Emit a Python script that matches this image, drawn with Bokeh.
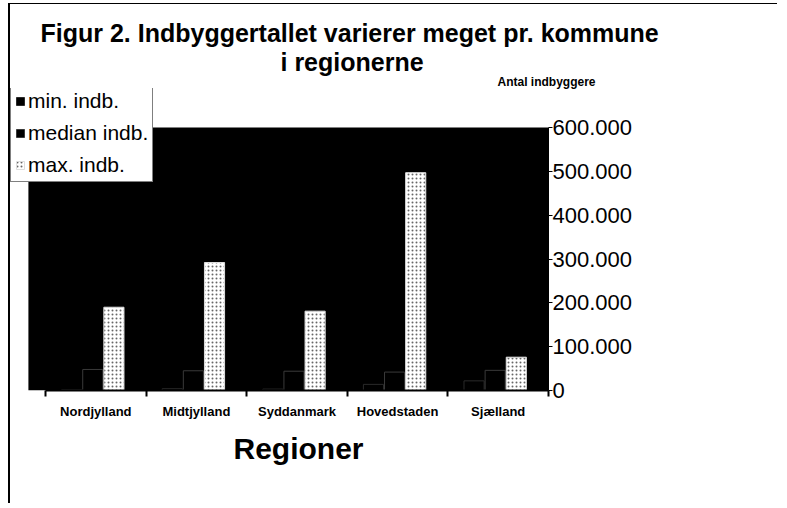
from bokeh.plotting import figure
from bokeh.models import (Range1d, FixedTicker, Legend, LegendItem, Title,
                          ColumnDataSource, BoxAnnotation)
from bokeh.transform import dodge
from bokeh.embed import file_html
from bokeh.resources import INLINE

# ---- data ----
regions = ["Nordjylland", "Midtjylland", "Syddanmark", "Hovedstaden", "Sjælland"]
min_indb = [2000, 4000, 3200, 14000, 22000]
median_indb = [48000, 45000, 44000, 42000, 46000]
max_indb = [190000, 292000, 181000, 497000, 76000]
y_ticks = [0, 100000, 200000, 300000, 400000, 500000, 600000]
y_tick_labels = ["0", "100.000", "200.000", "300.000", "400.000", "500.000", "600.000"]

centers = [i + 0.5 for i in range(len(regions))]
bounds = [float(i) for i in range(len(regions) + 1)]
y_max = y_ticks[-1]

FONT = "Liberation Sans"

p = figure(width=769, height=500, output_backend="svg", toolbar_location=None,
           x_range=Range1d(-0.348, 5.0), y_range=Range1d(0, 689000),
           y_axis_location="right",
           min_border_left=0, min_border_right=231,
           min_border_top=84, min_border_bottom=114)
p.styles = {"margin-left": "8px", "margin-top": "3px",
            "border-left": "2px solid black", "border-top": "1px solid black"}
p.background_fill_color = "white"
p.border_fill_color = "white"
p.outline_line_color = None
p.grid.visible = False

# dark plot wall
p.add_layout(BoxAnnotation(left=-0.17, top=y_max, fill_color="black", fill_alpha=1.0,
                           line_color=None, level="underlay"))

src = ColumnDataSource(dict(x=centers, mn=min_indb, md=median_indb, mx=max_indb))
r_min = p.vbar(x=dodge("x", -0.24, range=p.x_range), top="mn", width=0.2, source=src,
               fill_color="black", line_color="#2a2a2a", line_width=1)
r_med = p.vbar(x=dodge("x", -0.03, range=p.x_range), top="md", width=0.2, source=src,
               fill_color="black", line_color="#3a3a3a", line_width=1)
r_max = p.vbar(x=dodge("x", 0.18, range=p.x_range), top="mx", width=0.2, source=src,
               fill_color="white", line_color="#dddddd", line_width=1,
               hatch_pattern=".", hatch_color="#666666", hatch_scale=4, hatch_weight=1)

# x axis: labels at centers, ticks at boundaries
xa = p.xaxis[0]
xa.bounds = (0, len(regions))
xa.ticker = FixedTicker(ticks=centers, minor_ticks=bounds)
xa.major_label_overrides = {c: r for c, r in zip(centers, regions)}
xa.major_tick_out = 0
xa.major_tick_in = 0
xa.minor_tick_out = 6
xa.minor_tick_in = 0
xa.minor_tick_line_color = "black"
xa.minor_tick_line_width = 2
xa.axis_line_color = "black"
xa.axis_line_width = 2
xa.major_label_text_font = FONT
xa.major_label_text_font_style = "bold"
xa.major_label_text_font_size = "13px"
xa.major_label_text_color = "black"
xa.major_label_standoff = 7

ya = p.yaxis[0]
ya.bounds = (0, y_max)
ya.ticker = FixedTicker(ticks=y_ticks)
ya.major_label_overrides = {t: l for t, l in zip(y_ticks, y_tick_labels)}
ya.minor_tick_line_color = None
ya.major_tick_out = 4
ya.major_tick_in = 0
ya.axis_line_color = "black"
ya.axis_line_width = 1
ya.major_label_text_font = FONT
ya.major_label_text_font_size = "22px"
ya.major_label_text_color = "black"
ya.major_label_standoff = 0

# axis title below as a Title so it can be placed freely
p.add_layout(Title(text="Regioner", align="left", offset=223,
                   text_font=FONT, text_font_style="bold", text_font_size="30px",
                   text_color="black", standoff=16), "below")

# titles (later-added sits further out)
p.add_layout(Title(text="Antal indbyggere", align="left", offset=487,
                   text_font=FONT, text_font_style="bold", text_font_size="12px",
                   text_color="black", standoff=-1), "above")
p.add_layout(Title(text="i regionerne", align="left", offset=270,
                   text_font=FONT, text_font_style="bold", text_font_size="25px",
                   text_color="black", standoff=-4), "above")
p.add_layout(Title(text="Figur 2. Indbyggertallet varierer meget pr. kommune",
                   align="left", offset=30,
                   text_font=FONT, text_font_style="bold", text_font_size="25px",
                   text_color="black", standoff=2), "above")

legend = Legend(items=[LegendItem(label="min. indb.", renderers=[r_min]),
                       LegendItem(label="median indb.", renderers=[r_med]),
                       LegendItem(label="max. indb.", renderers=[r_max])],
                location=(0, 208))
legend.label_text_font = FONT
legend.label_text_font_size = "21px"
legend.label_text_color = "black"
legend.glyph_width = 10
legend.glyph_height = 10
legend.label_height = 20
legend.spacing = 8
legend.padding = 4
legend.margin = 0
legend.label_standoff = 3
legend.border_line_color = "black"
legend.border_line_width = 1
legend.background_fill_color = "white"
legend.background_fill_alpha = 1.0
p.add_layout(legend, "center")

open("out.html", "w").write(file_html(p, INLINE))
